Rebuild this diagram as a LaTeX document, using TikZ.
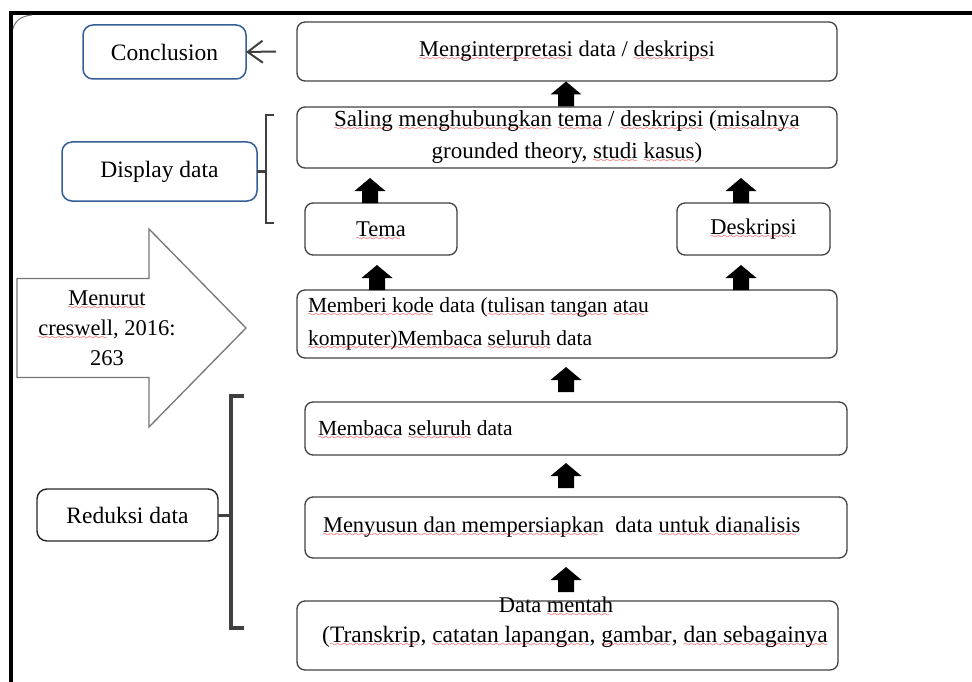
\documentclass[tikz,border=0pt]{standalone}
\usepackage{fontspec}
\setmainfont{Liberation Serif}
\newfontfamily\bodyf{Liberation Serif}
\usetikzlibrary{arrows.meta,calc}
\font\wavefont=lasy6 at 7.5pt
\newsavebox\sqbox
\newcommand\sq[1]{\leavevmode\sbox\sqbox{#1}\rlap{\usebox\sqbox}\smash{\lower4pt\hbox to \wd\sqbox{\color{red}\leaders\hbox{\wavefont\char58}\hfill}}}
\definecolor{bx}{RGB}{64,64,64}
\definecolor{cb}{RGB}{52,92,150}
\definecolor{ag}{RGB}{118,118,118}
\tikzset{
  box/.style={draw=bx, line width=1.3pt, rounded corners=8pt, inner sep=0pt, outer sep=0pt,
    font=\bodyf\fontsize{22.5}{32}\selectfont, align=center, anchor=north west},
  lbox/.style={box, align=left},
  bluebox/.style={draw=cb, line width=1.5pt, rounded corners=10pt, inner sep=0pt, outer sep=0pt,
    font=\fontsize{23.5}{28}\selectfont, anchor=north west},
  blackbox/.style={bluebox, draw=black!85, line width=1.4pt},
  bodytext/.style={inner sep=0pt, font=\bodyf\fontsize{22.5}{32}\selectfont},
  uparr/.pic={\fill[black] (-8,0) -- (-8,-12) -- (-15.5,-12) -- (0,-25) -- (15.5,-12) -- (8,-12) -- (8,0) -- cycle;},
  bracket/.style={draw=bx}
}
\begin{document}
\begin{tikzpicture}[x=1pt,y=-1pt]
\useasboundingbox (0,0) rectangle (972,682);
% frame
\draw[line width=4pt] (11,682) -- (11,13) -- (974,13);
\draw[ag, line width=1pt] (13,29) .. controls (15,20) and (22,16) .. (32,15);

% right column boxes
\node[box, minimum width=540, minimum height=59] (interp) at (297,22)
  {\sq{Menginterpretasi} data / \sq{deskripsi}};
\node[box, minimum width=540, minimum height=61, font=\bodyf\fontsize{23}{32}\selectfont] (saling) at (297,107)
  {\sq{Saling} \sq{menghubungkan} \sq{tema} / \sq{deskripsi} (\sq{misalnya}\\ grounded theory, \sq{studi} \sq{kasus})};
\node[box, minimum width=152, minimum height=52] (tema) at (305,203) {\sq{Tema}};
\node[box, minimum width=153, minimum height=52] (deskripsi) at (677,203) {\sq{Deskripsi}};
\node[lbox, text width=518, inner xsep=11pt, minimum height=68, font=\bodyf\fontsize{21.5}{33}\selectfont] (memberi) at (297,290)
  {\spaceskip=0pt\relax\sq{Memberi kode} data (\sq{tulisan} \sq{tangan} \sq{atau}\\\sq{komputer)Membaca} \sq{seluruh} data};
\node[lbox, text width=516, inner xsep=13pt, minimum height=53, font=\bodyf\fontsize{21.5}{32}\selectfont] (membaca) at (305,402)
  {\spaceskip=0pt\relax\sq{Membaca} \sq{seluruh} data};
\node[lbox, text width=506, inner xsep=18pt, minimum height=61] (menyusun) at (305,497)
  {\spaceskip=0pt\relax\sq{Menyusun dan mempersiapkan}\ \ data \sq{untuk dianalisis}};
\node[box, minimum width=541, minimum height=69] (mentah) at (297,601) {};
\node[bodytext] (mentahA) at (556,605) {Data \sq{mentah}};
\node[bodytext, anchor=west, font=\bodyf\fontsize{23.5}{32}\selectfont] (mentahB) at (322,637)
  {(\sq{Transkrip}, \sq{catatan lapangan}, \sq{gambar}, \sq{dan sebagainya}};

% block arrows
\pic at (566,106.5) {uparr};
\pic at (370,203) {uparr};
\pic at (741,203) {uparr};
\pic at (377,290) {uparr};
\pic at (741,290) {uparr};
\pic at (566,392) {uparr};
\pic at (566,488) {uparr};
\pic at (566,592) {uparr};

% left labels
\node[bluebox, minimum width=163, minimum height=54] (concl) at (83,25) {Conclusion};
\node[bluebox, minimum width=195, minimum height=59] (display) at (62,142) {Display data};
\node[blackbox, minimum width=181, minimum height=52] (reduksi) at (37,489) {Reduksi data\hspace{10pt}};

\draw[bx, line width=2pt, -{Straight Barb[length=15pt,width=22pt]}]
  ($(interp.west)+(-21,0)$) -- (concl.east);

% brackets
\coordinate (dbr) at (266,169);
\draw[bracket, line width=2.4pt] (274,115) -- (266,115) -- (266,223) -- (274,223);
\draw[bracket, line width=2.4pt] (display.east) -- (display.east -| dbr);
\coordinate (rbr) at (231,513);
\draw[bracket, line width=3.5pt] (244,396) -- (231,396) -- (231,628) -- (244,628);
\draw[bracket, line width=3pt] (reduksi.east) -- (reduksi.east -| rbr);

% big outline arrow
\draw[ag, line width=1.3pt, fill=white] (17,278.5) -- (149,278.5) -- (149,229) -- (246,328)
  -- (149,427) -- (149,377.5) -- (17,377.5) -- cycle;
\node[bodytext, align=center, font=\bodyf\fontsize{22.5}{30}\selectfont] (menurut) at (107,328)
  {\sq{Menurut}\\\sq{creswell}, 2016:\\263};
\end{tikzpicture}
\end{document}
